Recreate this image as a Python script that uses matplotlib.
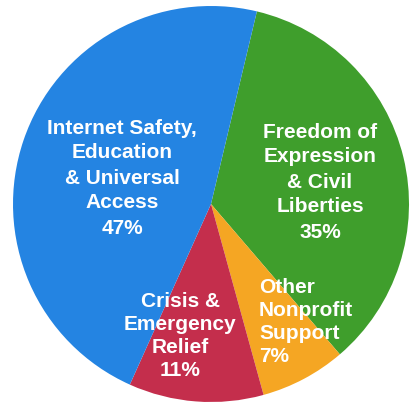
import matplotlib.pyplot as plt

# slice data (clockwise from the top)
labels = ['Freedom of\nExpression\n& Civil\nLiberties', 'Other\nNonprofit\nSupport',
          'Crisis &\nEmergency\nRelief', 'Internet Safety,\nEducation\n& Universal\nAccess']
shares = [35, 7, 11, 47]
colors = ['#3f9e2c', '#f5a623', '#c42e4c', '#2484e2']

W, H = 411, 405
fig = plt.figure(figsize=(W / 100, H / 100), dpi=100, facecolor='white')
ax = fig.add_axes([0, 0, 1, 1])

ax.pie(shares, colors=colors, startangle=76.6, counterclock=False,
       center=(211, H - 204), radius=198, frame=True,
       wedgeprops=dict(linewidth=0, antialiased=True))
ax.set_xlim(0, W)
ax.set_ylim(0, H)
ax.set_aspect('equal')
ax.axis('off')

# label positions in pixel coords (x, y from top), alignment, line spacing
label_pos = [(320, 182, 'center', 1.4), (259, 322, 'left', 1.25),
             (180, 336, 'center', 1.25), (122, 178, 'center', 1.4)]
for lab, pct, (x, y, ha, ls) in zip(labels, shares, label_pos):
    ax.text(x, H - y, f'{lab}\n{pct}%', ha=ha, va='center', color='white',
            fontsize=15, fontweight='bold', family='Liberation Sans',
            linespacing=ls, multialignment='center' if ha == 'center' else 'left')

fig.savefig('out.png', dpi=100, facecolor='white')
